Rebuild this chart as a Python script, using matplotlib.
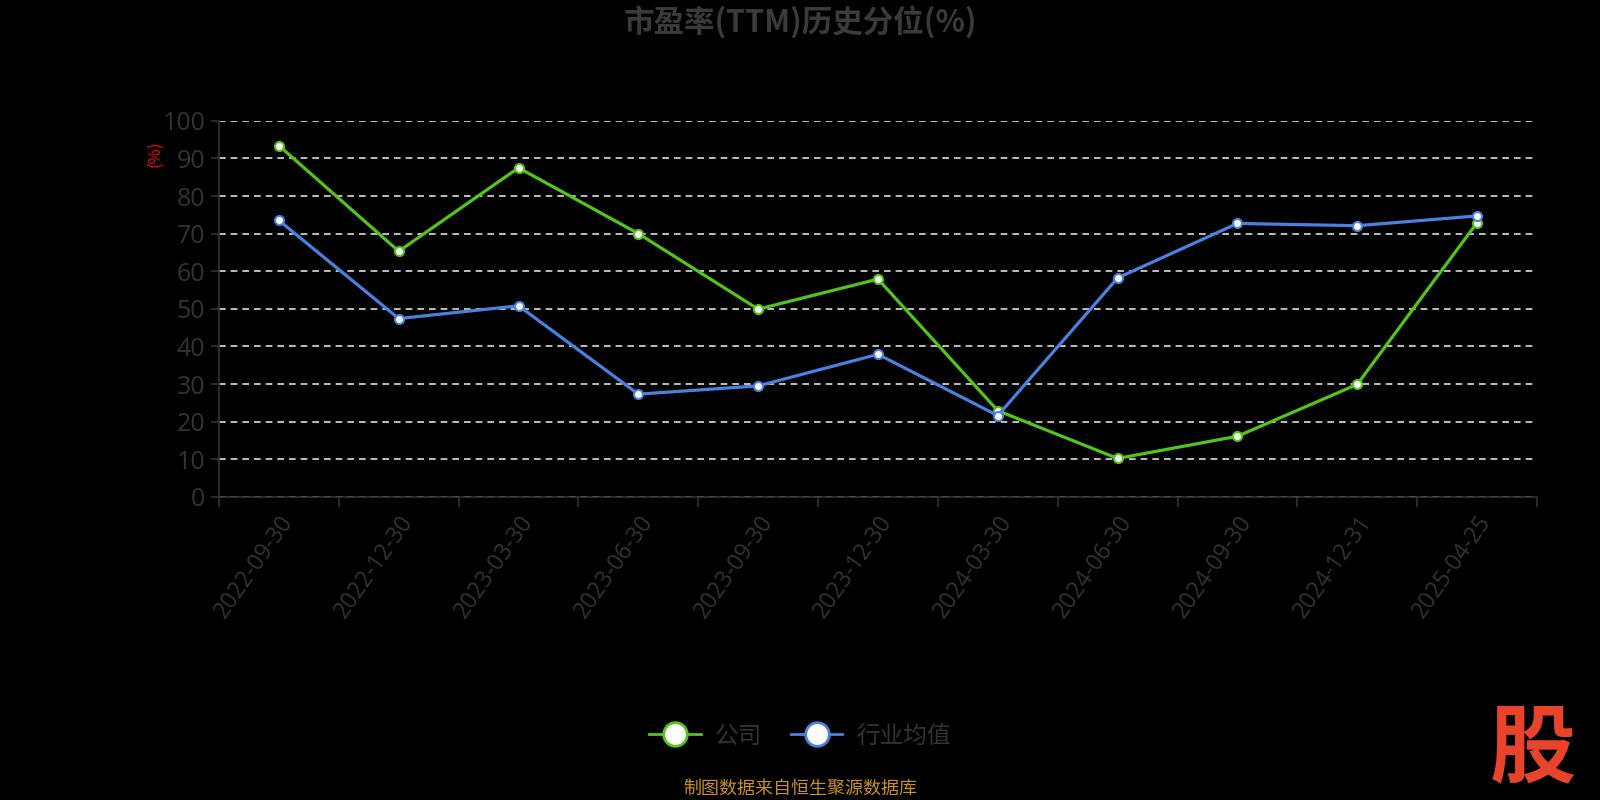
import numpy as np
import matplotlib.pyplot as plt
from matplotlib.lines import Line2D

plt.rcParams['font.family'] = ['Noto Sans CJK SC', 'DejaVu Sans']

dates = ['2022-09-30', '2022-12-30', '2023-03-30', '2023-06-30', '2023-09-30',
         '2023-12-30', '2024-03-30', '2024-06-30', '2024-09-30', '2024-12-31',
         '2025-04-25']
company = [93.4, 65.3, 87.5, 70.0, 49.9, 57.9, 22.9, 10.2, 16.1, 29.9, 72.9]
industry = [73.5, 47.4, 50.8, 27.3, 29.5, 37.9, 21.6, 58.2, 72.7, 72.1, 74.7]

green = '#52c41a'
blue = '#4a80e0'
grey = '#333333'

fig = plt.figure(figsize=(16, 8), dpi=100, facecolor='black')
ax = fig.add_axes([0.1369, 0.379, 0.8237, 0.470])
ax.set_facecolor('black')

x = np.arange(len(dates))
ax.plot(x, company, color=green, lw=2.3, marker='o', ms=6.5,
        mfc='white', mec=green, mew=1.5, zorder=3)
ax.plot(x, industry, color=blue, lw=2.3, marker='o', ms=6.5,
        mfc='white', mec=blue, mew=1.5, zorder=3)

ax.set_xlim(-0.5, len(dates) - 0.5)
ax.set_ylim(0, 100)
ax.set_yticks(range(0, 101, 10))
ax.yaxis.grid(True, color='#dddddd', ls=(0, (4, 3)), lw=1.2)
ax.set_axisbelow(True)

ax.set_xticks(x)
ax.set_xticklabels(dates, rotation=55, ha='right', rotation_mode='anchor',
                   fontsize=16.5, color=grey, family='Open Sans')
ax.set_xticks(np.arange(-0.5, len(dates), 1), minor=True)
ax.tick_params(axis='x', which='major', length=0, pad=10)
ax.tick_params(axis='x', which='minor', length=7, color=grey, width=1.2)
ax.tick_params(axis='y', length=6, color=grey, width=1.2, labelsize=18,
               labelcolor=grey, pad=4)
for lab in ax.get_yticklabels():
    lab.set_family('Open Sans')

for s in ['top', 'right']:
    ax.spines[s].set_visible(False)
ax.spines['left'].set_color(grey)
ax.spines['bottom'].set_color(grey)
ax.spines['left'].set_linewidth(1.2)
ax.spines['bottom'].set_linewidth(1.2)

fig.text(0.5, 0.972, '市盈率(TTM)历史分位(%)', ha='center', va='center',
         fontsize=22, fontweight='bold', color='#3a3a3a')
fig.text(0.097, 0.808, '(%)', rotation=90, ha='center', va='center',
         fontsize=12, color='red')

handles = [Line2D([], [], color=green, lw=2, marker='o', ms=17, mfc='white',
                  mec=green, mew=2),
           Line2D([], [], color=blue, lw=2, marker='o', ms=17, mfc='white',
                  mec=blue, mew=2)]
fig.legend(handles, ['公司', '行业均值'], loc='center', bbox_to_anchor=(0.5, 0.08),
           ncol=2, frameon=False, fontsize=17, labelcolor=grey,
           handlelength=2.2, columnspacing=1.2, handletextpad=0.6)

fig.text(0.5, 0.014, '制图数据来自恒生聚源数据库', ha='center', va='center',
         fontsize=13, color='#c8901e')
fig.text(0.958, 0.062, '股', ha='center', va='center', fontsize=62,
         fontweight='bold', color='#e8432b')

fig.savefig('out.png', dpi=100, facecolor='black')
